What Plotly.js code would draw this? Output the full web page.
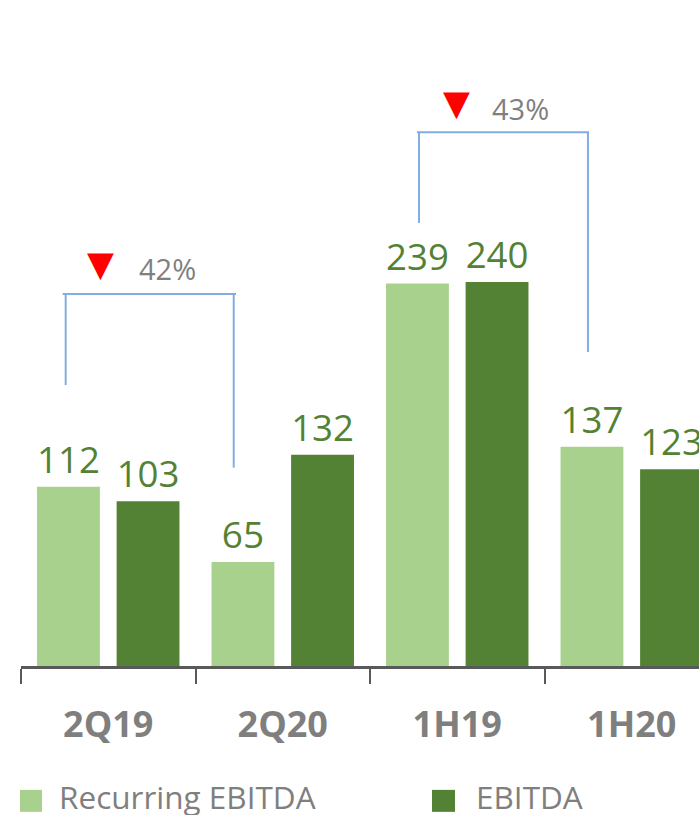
<!DOCTYPE html>
<html>
<head>
<meta charset="utf-8">
<script src="https://cdn.plot.ly/plotly-3.0.1.min.js"></script>
<style>
html, body { margin: 0; padding: 0; overflow: hidden; background: #fff; width: 699px; height: 815px; }
#chart { width: 740px; height: 815px; }
</style>
</head>
<body>
<div id="chart"></div>
<script>
// ---- Data ----
const categories = ['2Q19', '2Q20', '1H19', '1H20'];
const recurringEbitda = [112, 65, 239, 137];
const ebitda = [103, 132, 240, 123];
const seriesNames = ['Recurring EBITDA', 'EBITDA'];
const changeLabels = ['42%', '43%'];

// ---- Styles ----
const lightGreen = '#a9d18e';
const darkGreen = '#548235';
const grey = '#7f7f7f';
const axisGrey = '#595959';
const bracketBlue = '#82addf';
const fontFamily = '"Open Sans", "Noto Sans", sans-serif';

const traces = [
  {
    type: 'bar', name: seriesNames[0], x: categories, y: recurringEbitda,
    marker: { color: lightGreen },
    text: recurringEbitda.map(String), textposition: 'outside',
    textfont: { size: 37, color: darkGreen, family: fontFamily },
    cliponaxis: false, showlegend: false, hoverinfo: 'none'
  },
  {
    type: 'bar', name: seriesNames[1], x: categories, y: ebitda,
    marker: { color: darkGreen },
    text: ebitda.map(String), textposition: 'outside',
    textfont: { size: 37, color: darkGreen, family: fontFamily },
    cliponaxis: false, showlegend: false, hoverinfo: 'none'
  }
];

const lineStyle = { color: bracketBlue, width: 2 };
function seg(x0, y0, x1, y1) {
  return { type: 'line', xref: 'x', yref: 'y', x0, y0, x1, y1, line: lineStyle };
}

const shapes = [
  // bracket 2Q19 -> 2Q20
  seg(-0.261, 232.5, 0.732, 232.5),
  seg(-0.244, 232.5, -0.244, 175.6),
  seg(0.719, 232.5, 0.719, 124),
  // bracket 1H19 -> 1H20
  seg(1.769, 333.6, 2.755, 333.6),
  seg(1.781, 333.6, 1.781, 276.9),
  seg(2.749, 333.6, 2.749, 196.25),
  // legend squares
  { type: 'rect', xref: 'paper', yref: 'paper', x0: -0.0014, x1: 0.0301, y0: -0.186, y1: -0.219,
    fillcolor: lightGreen, line: { width: 0 } },
  { type: 'rect', xref: 'paper', yref: 'paper', x0: 0.5888, x1: 0.6218, y0: -0.186, y1: -0.219,
    fillcolor: darkGreen, line: { width: 0 } }
];

const annotations = [
  { x: -0.042, y: 251.5, xref: 'x', yref: 'y', text: '▼', showarrow: false,
    font: { size: 35, color: '#ff0000', family: 'DejaVu Sans' } },
  { x: 0.337, y: 248.75, xref: 'x', yref: 'y', text: changeLabels[0], showarrow: false,
    font: { size: 29, color: grey, family: fontFamily } },
  { x: 1.993, y: 352, xref: 'x', yref: 'y', text: '▼', showarrow: false,
    font: { size: 35, color: '#ff0000', family: 'DejaVu Sans' } },
  { x: 2.365, y: 348.75, xref: 'x', yref: 'y', text: changeLabels[1], showarrow: false,
    font: { size: 29, color: grey, family: fontFamily } },
  // legend labels
  { x: 0.053, y: -0.196, xref: 'paper', yref: 'paper', xanchor: 'left', yanchor: 'middle',
    text: seriesNames[0], showarrow: false, borderpad: 0,
    font: { size: 31.5, color: grey, family: fontFamily } },
  { x: 0.6504, y: -0.196, xref: 'paper', yref: 'paper', xanchor: 'left', yanchor: 'middle',
    text: seriesNames[1], showarrow: false, borderpad: 0,
    font: { size: 31.5, color: grey, family: fontFamily } }
];

const layout = {
  width: 740, height: 815,
  margin: { l: 21, r: 21, t: 0, b: 149 },
  paper_bgcolor: '#fff', plot_bgcolor: '#fff',
  barmode: 'group', bargap: 0.088, bargroupgap: 0.21,
  showlegend: false,
  font: { family: fontFamily },
  xaxis: {
    type: 'category', tickson: 'boundaries', ticks: 'outside', ticklen: 15,
    tickwidth: 2, tickcolor: axisGrey,
    showline: true, linecolor: axisGrey, linewidth: 2.5,
    showgrid: false, zeroline: false,
    tickfont: { size: 36, color: grey, family: fontFamily, weight: 'bold' },
    ticklabelstandoff: 25
  },
  yaxis: { range: [0, 416.25], visible: false, showgrid: false, zeroline: false, fixedrange: true },
  shapes, annotations
};

Plotly.newPlot('chart', traces, layout, { staticPlot: true, displayModeBar: false });
</script>
</body>
</html>
